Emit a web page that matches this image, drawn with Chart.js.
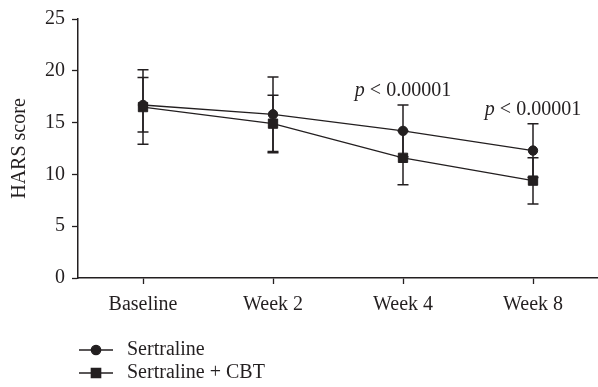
<!DOCTYPE html>
<html>
<head>
<meta charset="utf-8">
<script src="https://cdn.jsdelivr.net/npm/chart.js@4"></script>
<style>
    html, body { margin: 0; padding: 0; background: #fff; }
    #wrap { width: 598px; height: 387px; }
</style>
</head>
<body>
<div id="wrap"><canvas id="chart"></canvas></div>
<script>
const weeks = ['Baseline', 'Week 2', 'Week 4', 'Week 8'];
const sertraline = [16.7, 15.8, 14.2, 12.3];
const sertralineHigh = [19.35, 19.4, 16.7, 14.9];
const sertralineLow = [14.1, 12.2, 11.7, 9.7];
const sertralineCbt = [16.5, 14.9, 11.6, 9.4];
const sertralineCbtHigh = [20.1, 17.65, 14.2, 11.6];
const sertralineCbtLow = [12.9, 12.1, 9.0, 7.15];
const pNotes = ['', '', '< 0.00001', '< 0.00001'];
const yTicks = [0, 5, 10, 15, 20, 25];

const ink = '#231f20';
const serif = '"Liberation Serif", "Times New Roman", serif';
const fontSize = 20;

// whiskers go under the markers
const errorBars = {
    id: 'errorBars',
    beforeDatasetsDraw(chart) {
        const ctx = chart.ctx;
        const xs = chart.scales.x, ys = chart.scales.y;
        ctx.save();
        ctx.strokeStyle = ink;
        ctx.lineWidth = 1.5;
        chart.data.datasets.forEach(ds => {
            ds.errHigh.forEach((hi, i) => {
                const px = xs.getPixelForValue(i);
                const top = ys.getPixelForValue(hi);
                const bot = ys.getPixelForValue(ds.errLow[i]);
                ctx.beginPath();
                ctx.moveTo(px, top); ctx.lineTo(px, bot);
                ctx.moveTo(px - 5.5, top); ctx.lineTo(px + 5.5, top);
                ctx.moveTo(px - 5.5, bot); ctx.lineTo(px + 5.5, bot);
                ctx.stroke();
            });
        });
        ctx.restore();
    }
};

// "p < 0.00001" above the highest whisker
const pValues = {
    id: 'pValues',
    afterDatasetsDraw(chart) {
        const ctx = chart.ctx;
        const xs = chart.scales.x, ys = chart.scales.y;
        ctx.save();
        ctx.fillStyle = ink;
        ctx.textBaseline = 'alphabetic';
        pNotes.forEach((note, i) => {
            if (!note) return;
            const top = Math.max(sertralineHigh[i], sertralineCbtHigh[i]);
            const px = xs.getPixelForValue(i);
            const py = ys.getPixelForValue(top) - 9;
            ctx.font = `italic ${fontSize}px ${serif}`;
            const wp = ctx.measureText('p ').width;
            ctx.font = `${fontSize}px ${serif}`;
            const wr = ctx.measureText(note).width;
            const x0 = px - (wp + wr) / 2;
            ctx.font = `italic ${fontSize}px ${serif}`;
            ctx.fillText('p', x0, py);
            ctx.font = `${fontSize}px ${serif}`;
            ctx.fillText(note, x0 + wp, py);
        });
        ctx.restore();
    }
};

// two-row legend under the axis, line + marker + label
const lineLegend = {
    id: 'lineLegend',
    afterDraw(chart) {
        const ctx = chart.ctx;
        ctx.save();
        chart.data.datasets.forEach((ds, i) => {
            const y = 350 + i * 23;
            ctx.strokeStyle = ink;
            ctx.fillStyle = ink;
            ctx.lineWidth = 1.3;
            ctx.beginPath();
            ctx.moveTo(79, y); ctx.lineTo(113, y);
            ctx.stroke();
            Chart.helpers.drawPoint(ctx, {
                pointStyle: ds.pointStyle,
                radius: ds.pointRadius,
                rotation: 0,
                borderWidth: 1
            }, 96, y);
            ctx.font = `${fontSize}px ${serif}`;
            ctx.textBaseline = 'middle';
            ctx.fillText(ds.label, 127, y);
        });
        ctx.restore();
    }
};

const ctx = document.getElementById('chart').getContext('2d');
new Chart(ctx, {
    type: 'line',
    data: {
        labels: weeks,
        datasets: [{
            label: 'Sertraline',
            data: sertraline,
            errHigh: sertralineHigh,
            errLow: sertralineLow,
            borderColor: ink,
            backgroundColor: ink,
            borderWidth: 1.3,
            pointStyle: 'circle',
            pointRadius: 4.7,
            pointBorderWidth: 1,
            tension: 0
        }, {
            label: 'Sertraline + CBT',
            data: sertralineCbt,
            errHigh: sertralineCbtHigh,
            errLow: sertralineCbtLow,
            borderColor: ink,
            backgroundColor: ink,
            borderWidth: 1.3,
            pointStyle: 'rect',
            pointRadius: 6.6,
            pointBorderWidth: 1,
            tension: 0
        }]
    },
    options: {
        responsive: true,
        maintainAspectRatio: false,
        animation: false,
        layout: { autoPadding: false, padding: { top: 15.5, right: -2, bottom: 0, left: 0 } },
        plugins: {
            legend: { display: false },
            tooltip: { enabled: false }
        },
        scales: {
            x: {
                offset: true,
                afterFit(scale) {
                    scale.height = 109;
                    scale.paddingLeft = 0;
                    scale.paddingRight = 0;
                },
                grid: { display: true, drawOnChartArea: false, tickLength: 6, tickColor: ink, tickWidth: 1.3 },
                border: { color: ink, width: 1.5 },
                ticks: { color: ink, font: { family: serif, size: fontSize }, padding: 9 }
            },
            y: {
                min: 0,
                max: 25,
                afterFit(scale) { scale.width = 78; },
                afterBuildTicks(scale) { scale.ticks = yTicks.map(v => ({ value: v })); },
                grid: { display: true, drawOnChartArea: false, tickLength: 6, tickColor: ink, tickWidth: 1.3 },
                border: { color: ink, width: 1.5 },
                ticks: { color: ink, font: { family: serif, size: fontSize }, padding: 7 },
                title: {
                    display: true,
                    text: 'HARS score',
                    color: ink,
                    font: { family: serif, size: fontSize },
                    padding: { top: 8, bottom: 0 }
                }
            }
        }
    },
    plugins: [errorBars, pValues, lineLegend]
});
</script>
</body>
</html>
